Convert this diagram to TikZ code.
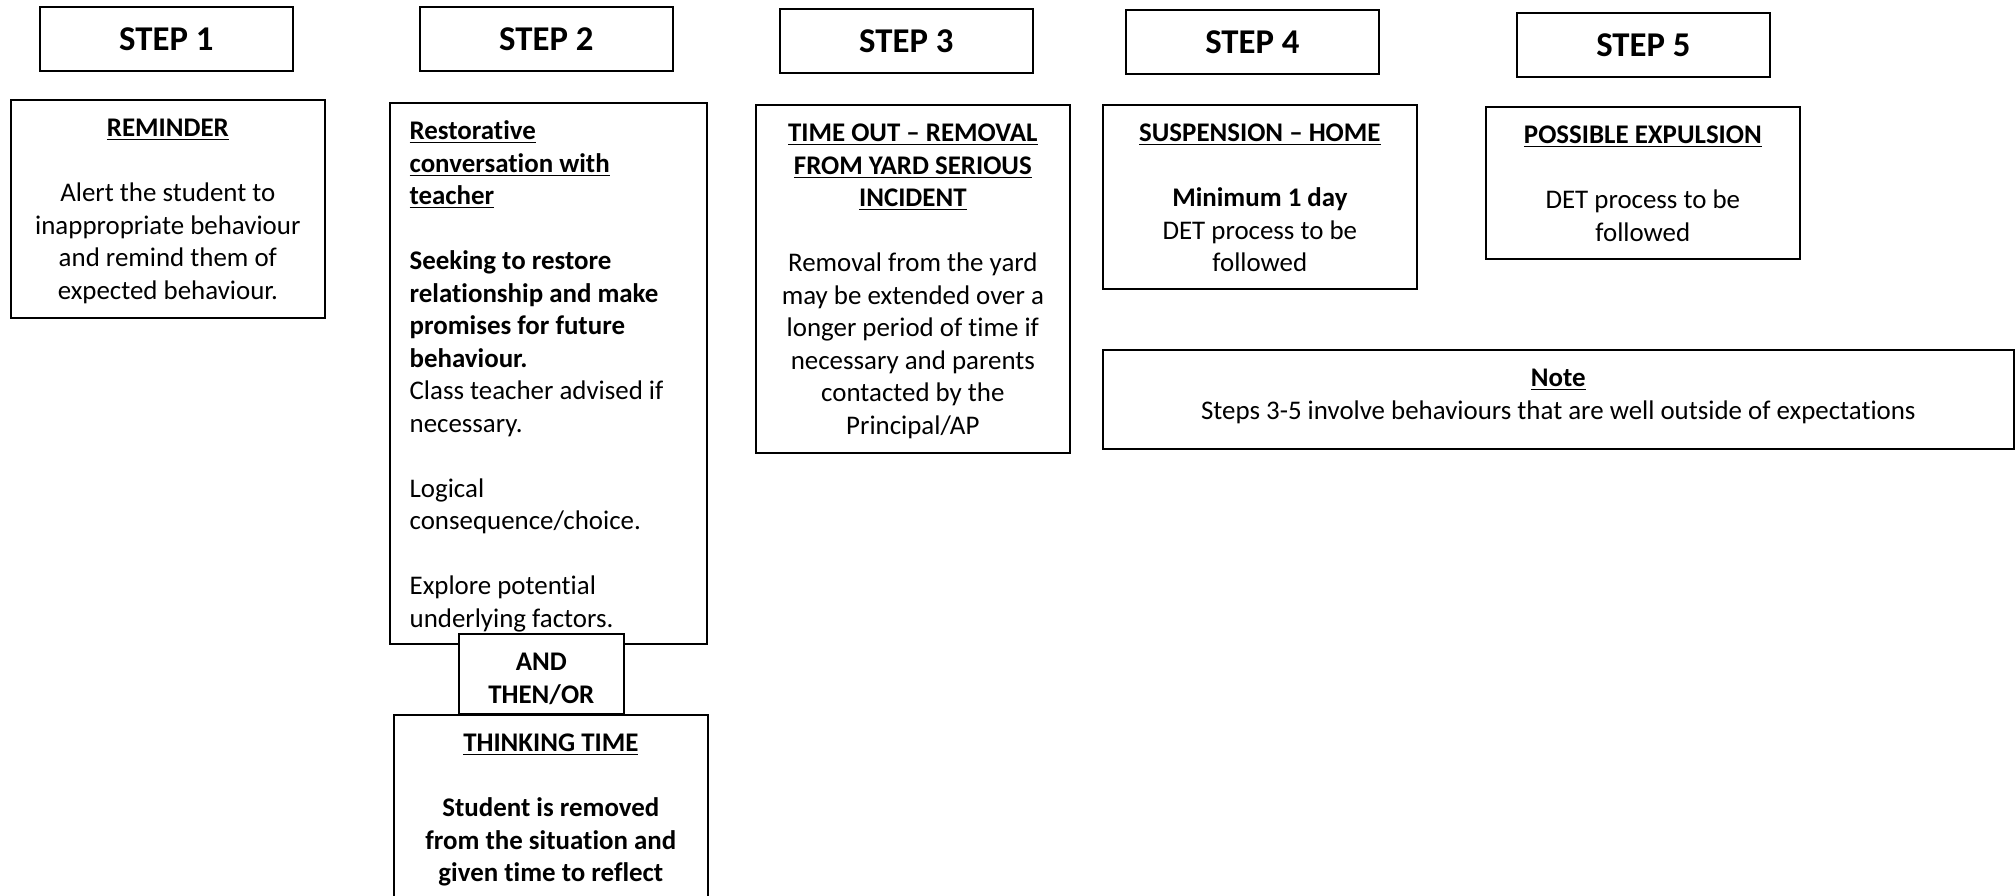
\documentclass[tikz,border=0pt]{standalone}
\usepackage{fontspec}
\setmainfont{Carlito}[Ligatures=NoCommon]
\usetikzlibrary{
    positioning,     % For placing the texts inside the panels
    calc             % For coordinate calculations
}
% one pixel of the layout grid
\newcommand{\pxlen}{0.446pt}
% height of an empty line between paragraphs
\newcommand{\skipline}{14.5pt}

\begin{document}
\begin{tikzpicture}[x=\pxlen, y=-\pxlen]

    % --- Style Definitions ---
    \tikzset{
        % The small header boxes on top (STEP 1 ... STEP 5)
        stepbox/.style={
            rectangle,
            draw=black,
            line width=0.75pt,
            anchor=north west,
            minimum width=253*\pxlen,
            minimum height=64*\pxlen,
            inner sep=0pt,
            font=\fontsize{15.5}{18}\selectfont\bfseries
        },
        % The larger boxes holding the description of each step
        panel/.style={
            rectangle,
            draw=black,
            fill=white,
            line width=0.75pt,
            anchor=north west,
            minimum width=314*\pxlen,
            inner sep=0pt
        },
        % Text set inside a panel, hung from its top edge
        paneltext/.style={
            inner sep=0pt,
            align=center,
            font=\fontsize{12}{14.5}\selectfont
        }
    }

    \useasboundingbox (0,0) rectangle (2015,896);
    \clip (0,0) rectangle (2015,896);

    % --- Step headers ---
    \node[stepbox] (step1) at (39,6)    {STEP 1};
    \node[stepbox] (step2) at (419,6)   {STEP 2};
    \node[stepbox] (step3) at (779,8)   {STEP 3};
    \node[stepbox] (step4) at (1125,9)  {STEP 4};
    \node[stepbox] (step5) at (1516,12) {STEP 5};

    % --- Panels (boxes only) ---
    \node[panel, minimum height=218*\pxlen] (reminder) at (10,99) {};
    \node[panel, minimum width=317*\pxlen, minimum height=541*\pxlen] (restore) at (389,102) {};
    \node[panel, minimum width=165*\pxlen, minimum height=80*\pxlen] (andor) at (458,633) {};
    \node[panel, minimum height=200*\pxlen] (thinking) at (393,714) {};
    \node[panel, minimum height=348*\pxlen] (timeout) at (755,104) {};
    \node[panel, minimum height=184*\pxlen] (suspension) at (1102,104) {};
    \node[panel, minimum height=152*\pxlen] (expulsion) at (1485,106) {};
    \node[panel, minimum width=911*\pxlen, minimum height=99*\pxlen] (note) at (1102,349) {};

    % --- Panel texts ---
    \node[paneltext, below=6.4pt of reminder.north] (remindertext) {%
        \strut\textbf{\underline{REMINDER}}\\[\skipline]
        Alert the student to\\
        inappropriate behaviour\\
        and remind them of\\
        expected behaviour.};

    \node[paneltext, align=left, below right=6.4pt and 9pt of restore.north west] (restoretext) {%
        \strut\textbf{\underline{Restorative}}\\
        \textbf{\underline{conversation with}}\\
        \textbf{\underline{teacher}}\\[\skipline]
        \textbf{Seeking to restore}\\
        \textbf{relationship and make}\\
        \textbf{promises for future}\\
        \textbf{behaviour.}\\
        Class teacher advised if\\
        necessary.\\[\skipline]
        Logical\\
        consequence/choice.\\[\skipline]
        Explore potential\\
        underlying factors.};

    \node[paneltext, below=6.4pt of andor.north] (andortext) {%
        \strut\textbf{AND}\\
        \textbf{THEN/OR}};

    \node[paneltext, below=6.4pt of thinking.north] (thinkingtext) {%
        \strut\textbf{\underline{THINKING TIME}}\\[\skipline]
        \textbf{Student is removed}\\
        \textbf{from the situation and}\\
        \textbf{given time to reflect}};

    \node[paneltext, below=6.4pt of timeout.north] (timeouttext) {%
        \strut\textbf{\underline{TIME OUT – REMOVAL}}\\
        \textbf{\underline{FROM YARD SERIOUS}}\\
        \textbf{\underline{INCIDENT}}\\[\skipline]
        Removal from the yard\\
        may be extended over a\\
        longer period of time if\\
        necessary and parents\\
        contacted by the\\
        Principal/AP};

    \node[paneltext, below=6.4pt of suspension.north] (suspensiontext) {%
        \strut\textbf{\underline{SUSPENSION – HOME}}\\[\skipline]
        \textbf{Minimum 1 day}\\
        DET process to be\\
        followed};

    \node[paneltext, below=6.4pt of expulsion.north] (expulsiontext) {%
        \strut\textbf{\underline{POSSIBLE EXPULSION}}\\[\skipline]
        DET process to be\\
        followed};

    \node[paneltext, below=6.4pt of note.north] (notetext) {%
        \strut\textbf{\underline{Note}}\\
        Steps 3-5 involve behaviours that are well outside of expectations};

\end{tikzpicture}
\end{document}
